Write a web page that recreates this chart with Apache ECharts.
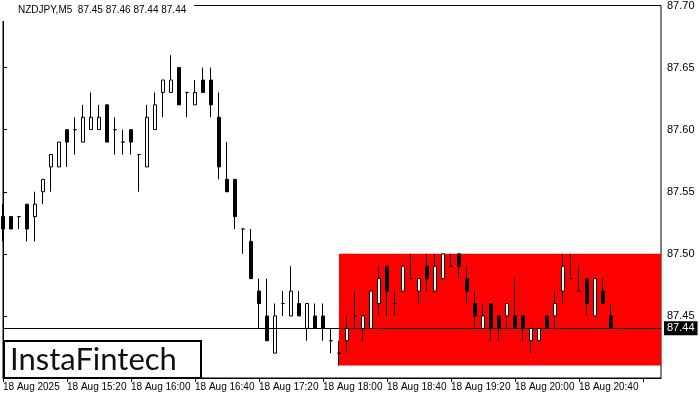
<!DOCTYPE html>
<html>
<head>
<meta charset="utf-8">
<script src="https://cdn.jsdelivr.net/npm/echarts@6/dist/echarts.min.js"></script>
<style>html,body{margin:0;padding:0;background:#fff}#c{width:700px;height:400px}</style>
</head>
<body>
<div id="c"></div>
<script>
// ---- data ----
const symbolTitle = 'NZDJPY,M5';
const lastQuote = ['87.45', '87.46', '87.44', '87.44'];

const opens = [87.53,87.53,87.53,87.54,87.53,87.55,87.57,87.57,87.60,87.60,
  87.59,87.60,87.60,87.62,87.60,87.59,87.60,87.58,87.57,87.60,
  87.63,87.63,87.65,87.63,87.62,87.64,87.64,87.61,87.56,87.56,
  87.52,87.51,87.47,87.45,87.42,87.46,87.45,87.46,87.44,87.45,
  87.45,87.43,87.42,87.43,87.45,87.44,87.44,87.46,87.49,87.46,
  87.47,87.48,87.47,87.49,87.47,87.48,87.49,87.50,87.48,87.46,
  87.44,87.46,87.45,87.45,87.45,87.45,87.43,87.43,87.45,87.45,
  87.47,87.48,87.47,87.48,87.45,87.47,87.45];
const highs = [87.54,87.53,87.53,87.54,87.55,87.56,87.58,87.59,87.60,87.61,
  87.62,87.63,87.62,87.62,87.61,87.60,87.60,87.58,87.62,87.63,
  87.64,87.66,87.65,87.63,87.64,87.65,87.65,87.63,87.59,87.56,
  87.52,87.52,87.48,87.48,87.46,87.47,87.49,87.47,87.46,87.46,
  87.46,87.44,87.43,87.45,87.47,87.45,87.47,87.49,87.49,87.47,
  87.49,87.50,87.48,87.50,87.50,87.50,87.50,87.50,87.49,87.47,
  87.46,87.46,87.45,87.46,87.48,87.45,87.44,87.44,87.45,87.47,
  87.50,87.50,87.49,87.48,87.48,87.48,87.46];
const lows = [87.51,87.52,87.52,87.51,87.51,87.54,87.55,87.57,87.57,87.58,
  87.59,87.60,87.60,87.59,87.58,87.58,87.58,87.55,87.57,87.60,
  87.61,87.63,87.62,87.61,87.62,87.63,87.61,87.56,87.55,87.52,
  87.50,87.48,87.44,87.43,87.42,87.45,87.45,87.45,87.43,87.44,
  87.43,87.42,87.41,87.42,87.44,87.43,87.44,87.45,87.45,87.45,
  87.47,87.48,87.46,87.47,87.47,87.48,87.49,87.48,87.46,87.44,
  87.44,87.43,87.43,87.44,87.44,87.43,87.42,87.43,87.44,87.44,
  87.46,87.48,87.47,87.45,87.45,87.46,87.44];
const closes = [87.52,87.52,87.53,87.52,87.54,87.56,87.58,87.59,87.59,87.60,
  87.61,87.61,87.61,87.59,87.60,87.59,87.59,87.58,87.61,87.62,
  87.64,87.64,87.62,87.63,87.63,87.63,87.62,87.57,87.55,87.53,
  87.52,87.48,87.46,87.43,87.45,87.46,87.47,87.45,87.46,87.44,
  87.44,87.43,87.42,87.44,87.45,87.45,87.47,87.48,87.47,87.46,
  87.49,87.48,87.48,87.48,87.49,87.50,87.49,87.49,87.47,87.45,
  87.45,87.44,87.44,87.46,87.44,87.44,87.44,87.44,87.44,87.46,
  87.49,87.48,87.47,87.46,87.48,87.46,87.44];

const xTickLabels = ['18 Aug 2025','18 Aug 15:20','18 Aug 16:00','18 Aug 16:40','18 Aug 17:20',
  '18 Aug 18:00','18 Aug 18:40','18 Aug 19:20','18 Aug 20:00','18 Aug 20:40'];
const xTickEvery = 8;          // candles between time labels
const yMin = 87.40, yMax = 87.70, yStep = 0.05;
const bidPrice = 87.44;
const boxStartIndex = 42;
const boxLow = 87.41;
const boxHigh = 87.50;
const brand = 'InstaFintech';

// ---- layout ----
const xMax = 82.25;

const candles = opens.map((o, i) => [i, o, closes[i], lows[i], highs[i]]);
const titleText = symbolTitle + '  ' + lastQuote.join(' ');

const chart = echarts.init(document.getElementById('c'), null, {renderer: 'canvas'});
chart.setOption({
  animation: false,
  title: {
    text: titleText, left: 0, top: 0,
    padding: [5, 8, 5, 18], backgroundColor: '#fff',
    textStyle: {fontSize: 10, fontWeight: 'normal', color: '#000', fontFamily: 'Liberation Sans', lineHeight: 11}
  },
  grid: {left: 3, right: 39, top: 4, bottom: 22, show: true, borderColor: '#000', borderWidth: 1, backgroundColor: 'transparent'},
  xAxis: {
    type: 'value', min: 0, max: xMax, interval: xTickEvery,
    axisLine: {show: true, lineStyle: {color: '#000', width: 1}},
    axisTick: {show: true, length: 4, lineStyle: {color: '#000'}},
    splitLine: {show: false},
    axisLabel: {
      color: '#000', fontSize: 10, fontFamily: 'Liberation Sans', align: 'left', margin: 4,
      showMaxLabel: false,
      formatter: v => { const k = Math.round(v / xTickEvery); return (Math.abs(v - k * xTickEvery) < 1e-6 && xTickLabels[k]) ? xTickLabels[k] : ''; }
    }
  },
  yAxis: {
    type: 'value', position: 'right', min: yMin, max: yMax, interval: yStep, scale: true,
    axisLine: {show: true, lineStyle: {color: '#000', width: 1}},
    axisTick: {show: true, length: 4, lineStyle: {color: '#000'}},
    splitLine: {show: false},
    axisLabel: {color: '#000', fontSize: 11, fontFamily: 'Liberation Sans', margin: 6, showMinLabel: false,
      formatter: v => v.toFixed(2)}
  },
  series: [
    {
      type: 'line', data: [], z: 1, silent: true,
      markArea: {
        silent: true,
        itemStyle: {color: '#ff0000', opacity: 1, borderWidth: 0},
        label: {show: false},
        data: [[{xAxis: boxStartIndex, yAxis: boxLow}, {xAxis: xMax, yAxis: boxHigh}]]
      }
    },
    {
      type: 'line', data: [], z: 2, silent: true,
      markLine: {
        silent: true, symbol: ['none', 'none'], animation: false,
        lineStyle: {color: '#000', width: 1, type: 'solid'},
        emphasis: {disabled: true},
        label: {show: true, position: 'end', distance: 3, formatter: bidPrice.toFixed(2),
          color: '#fff', backgroundColor: '#000', fontSize: 11, fontFamily: 'Liberation Sans', padding: [2, 3, 1, 3]},
        data: [{yAxis: bidPrice}]
      }
    },
    {
      type: 'candlestick', data: candles, z: 3, barWidth: 4, clip: false,
      encode: {x: 0, y: [1, 2, 3, 4]},
      itemStyle: {color: '#fff', color0: '#000', borderColor: '#000', borderColor0: '#000', borderColorDoji: '#000', borderWidth: 1},
      emphasis: {disabled: true}
    }
  ],
  graphic: [
    {type: 'rect', z: 100, shape: {x: 4, y: 341, width: 197, height: 37}, style: {fill: '#fff', stroke: '#000', lineWidth: 2}},
    {type: 'text', z: 101, x: 10, y: 360, style: {text: brand, font: '31px Lato', fill: '#111', verticalAlign: 'middle'}}
  ]
});
</script>
</body>
</html>
